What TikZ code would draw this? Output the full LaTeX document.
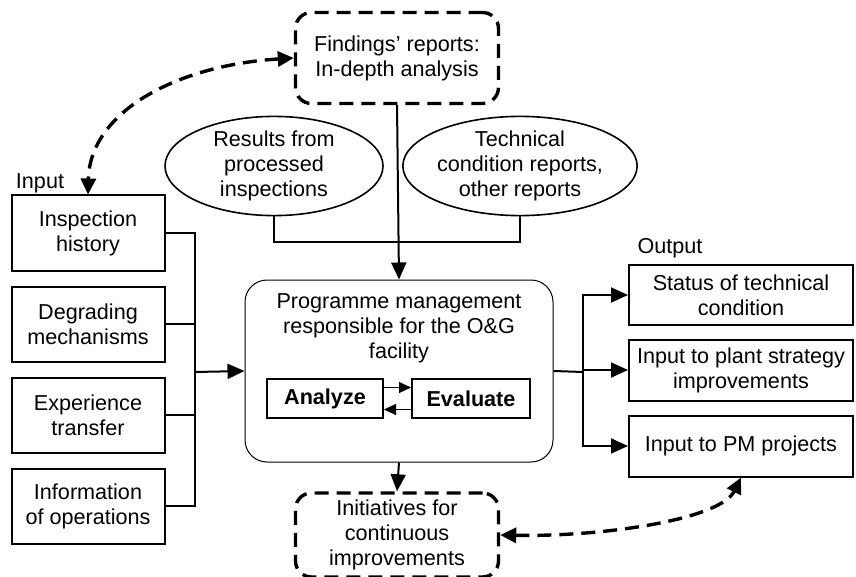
\documentclass[tikz,border=0pt]{standalone}
\usepackage{fontspec}
\setmainfont{Liberation Sans}
\usetikzlibrary{arrows.meta,shapes.geometric}

\tikzset{
  txt/.style={font=\fontsize{10.8}{12.5}\selectfont, align=center},
  inbox/.style={txt, draw, line width=1pt, minimum width=76.5pt, minimum height=37.5pt},
  outbox/.style={txt, draw, line width=1pt, minimum width=112pt, minimum height=30.5pt},
  dashbox/.style={txt, draw, line width=1.7pt, dash pattern=on 7pt off 4pt, rounded corners=8pt, minimum width=101.5pt},
  bubble/.style={txt, draw, ellipse, line width=0.8pt, minimum width=109pt, minimum height=45.5pt, inner sep=0pt},
  mainbox/.style={draw, line width=0.5pt, rounded corners=11pt, minimum width=154pt, minimum height=91pt},
  actbox/.style={txt, draw, line width=1pt, font=\fontsize{10.8}{12.5}\selectfont\bfseries, minimum height=19.5pt},
  arr/.style={line width=1pt, -{Triangle[length=8.5pt, width=7.5pt]}},
  thinarr/.style={line width=0.5pt, -{Triangle[length=6pt, width=5.5pt]}},
  dasharr/.style={line width=1.7pt, dash pattern=on 7pt off 4pt, {Triangle[length=8pt, width=7.5pt]}-{Triangle[length=8pt, width=7.5pt]}},
}

\begin{document}
\begin{tikzpicture}[x=0.5pt, y=-0.5pt]
\useasboundingbox (0,0) rectangle (856,577);

% Top sources
\node[dashbox, minimum height=45.5pt] (findings) at (397,58) {Findings’ reports:\\In-depth analysis};
\node[bubble] (results) at (274,166) {Results from\\processed\\inspections};
\node[bubble, minimum width=110pt] (techrep) at (520,166) {Technical\\condition reports,\\other reports};

% Input
\node[txt] (inlabel) at (40,183) {Input};
\node[inbox] (in1) at (88,233) {Inspection\\history};
\node[inbox] (in2) at (88,324) {Degrading\\mechanisms};
\node[inbox] (in3) at (88,415) {Experience\\transfer};
\node[inbox] (in4) at (88,506) {Information\\of operations};

% Programme management
\node[mainbox] (prog) at (399,371) {};
\node[txt] (progtxt) at (399,328) {Programme management\\responsible for the O\&G\\facility};
\node[actbox, minimum width=58pt] (analyze) at (325,398.5) {Analyze};
\node[actbox, minimum width=59pt] (evaluate) at (471,398.5) {Evaluate};

% Output
\node[txt] (outlabel) at (670,248) {Output};
\node[outbox, minimum height=30pt] (out1) at (741,295) {Status of technical\\condition};
\node[outbox] (out2) at (741,370) {Input to plant strategy\\improvements};
\node[outbox] (out3) at (741,446) {Input to PM projects};

% Initiatives
\node[dashbox, minimum height=42pt] (init) at (397,535) {Initiatives for\\continuous\\improvements};

% Connectors
\coordinate (inbus) at (195,372);
\coordinate (outbus) at (583,372);
\draw[line width=1pt] (results.south) -- (results.south |- 0,242) -| (techrep.south);
\draw[arr] (findings.south) -- (prog.north);
\foreach \n in {in1,in2,in3,in4}
  \draw[line width=1pt] (\n.east) -| (inbus);
\draw[arr] (inbus) -- (prog.west);
\draw[line width=1pt] (prog.east) -- (outbus);
\foreach \n in {out1,out2,out3}
  \draw[arr] (outbus) |- (\n.west);
\draw[arr] (prog.south) -- (init.north);
\draw[thinarr] ([yshift=5.5pt]analyze.east) -- ([yshift=5.5pt]evaluate.west);
\draw[thinarr] ([yshift=-5.5pt]evaluate.west) -- ([yshift=-5.5pt]analyze.east);

% Feedback loops
\draw[dasharr] (findings.west) .. controls (180,65) and (90,110) .. (in1.north);
\draw[dasharr] (init.east) .. controls (600,537) and (720,520) .. (out3.south);

\end{tikzpicture}
\end{document}
